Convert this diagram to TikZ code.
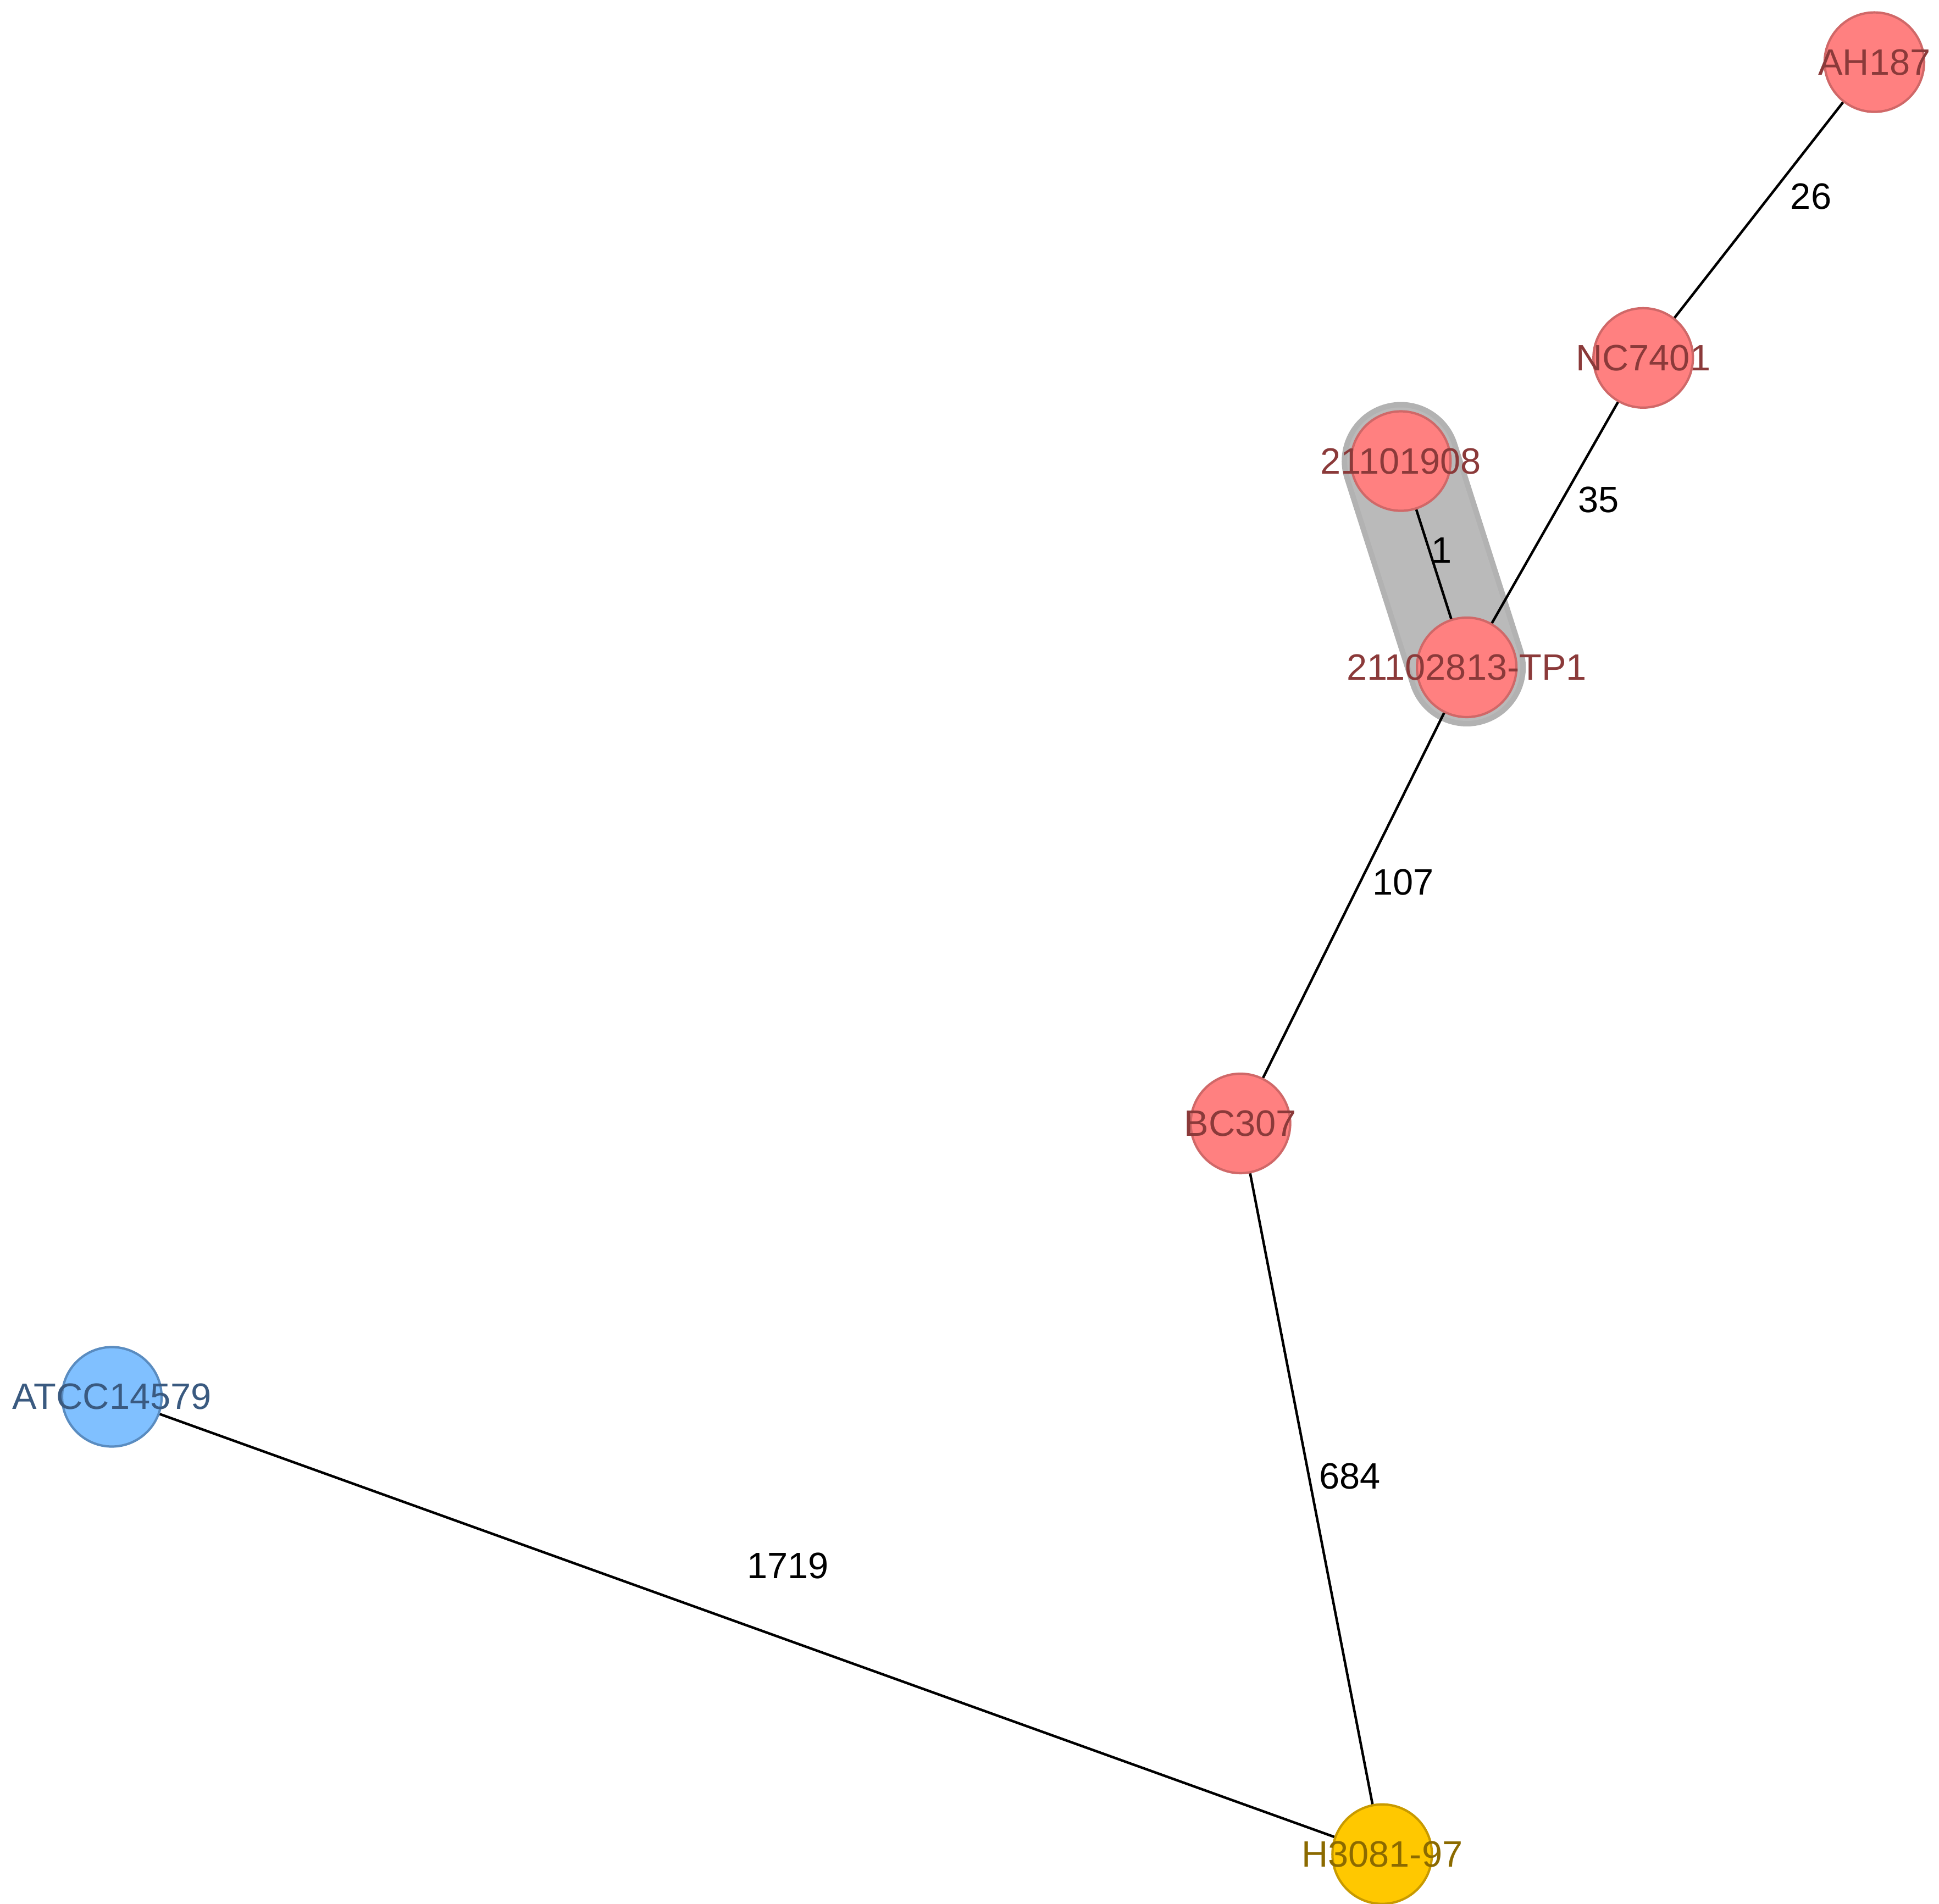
\documentclass[tikz,border=0pt]{standalone}
\usepackage{fontspec}
\setmainfont{Liberation Sans}
\definecolor{rfill}{HTML}{FF8080}
\definecolor{rdraw}{HTML}{D06868}
\definecolor{rtext}{HTML}{8B3A3A}
\definecolor{bfill}{HTML}{80C0FF}
\definecolor{bdraw}{HTML}{5A8CC0}
\definecolor{btext}{HTML}{3A5A80}
\definecolor{yfill}{HTML}{FFC800}
\definecolor{ydraw}{HTML}{C89A00}
\definecolor{ytext}{HTML}{8B6A00}
\begin{document}
\begin{tikzpicture}[x=0.022615cm,y=-0.022615cm,
  vert/.style={circle,minimum size=1.81cm,inner sep=0pt,line width=1.2pt},
  red/.style={vert,fill=rfill,draw=rdraw},
  blue/.style={vert,fill=bfill,draw=bdraw},
  yel/.style={vert,fill=yfill,draw=ydraw},
  vtext/.style={font=\fontsize{19}{22}\selectfont,inner sep=0pt},
  elab/.style={font=\fontsize{19}{22}\selectfont,text=black},
  link/.style={line width=1.3pt,black}]
\useasboundingbox (0,0) rectangle (1560,1532);
\coordinate (h1) at (1127,371);
\coordinate (h2) at (1180,537);
\draw[line width=2.15cm,line cap=round,color=black!30] (h1) -- (h2);
\draw[line width=1.95cm,line cap=round,color=black!27] (h1) -- (h2);
\coordinate (ahc) at (1508,50);
\coordinate (ncc) at (1322,288);
\coordinate (a1c) at (1127,371);
\coordinate (tpc) at (1180,537);
\coordinate (bcc) at (998,904);
\coordinate (atc) at (90,1124);
\coordinate (hc) at (1112,1492);
\draw[link] (ahc) -- (ncc);
\draw[link] (ncc) -- (tpc);
\draw[link] (a1c) -- (tpc);
\draw[link] (tpc) -- (bcc);
\draw[link] (bcc) -- (hc);
\draw[link] (atc) -- (hc);
\node[red] (ah) at (ahc) {};
\node[red] (nc) at (ncc) {};
\node[red] (a1) at (a1c) {};
\node[red] (tp) at (tpc) {};
\node[red] (bc) at (bcc) {};
\node[blue] (at) at (atc) {};
\node[yel] (h) at (hc) {};
\node[vtext,text=rtext] (tah) at (ah) {AH187};
\node[vtext,text=rtext] (tnc) at (nc) {NC7401};
\node[vtext,text=rtext] (ta1) at (a1) {21101908};
\node[vtext,text=rtext] (ttp) at (tp) {21102813-TP1};
\node[vtext,text=rtext] (tbc) at (bc) {BC307};
\node[vtext,text=btext] (tat) at (at) {ATCC14579};
\node[vtext,text=ytext] (th) at (h) {H3081-97};
\node[elab] (l26) at (1457,158) {26};
\node[elab] (l35) at (1286,402) {35};
\node[elab] (l1) at (1160,443) {1};
\node[elab] (l107) at (1129,710) {107};
\node[elab] (l684) at (1086,1188) {684};
\node[elab] (l1719) at (634,1260) {1719};
\end{tikzpicture}
\end{document}
